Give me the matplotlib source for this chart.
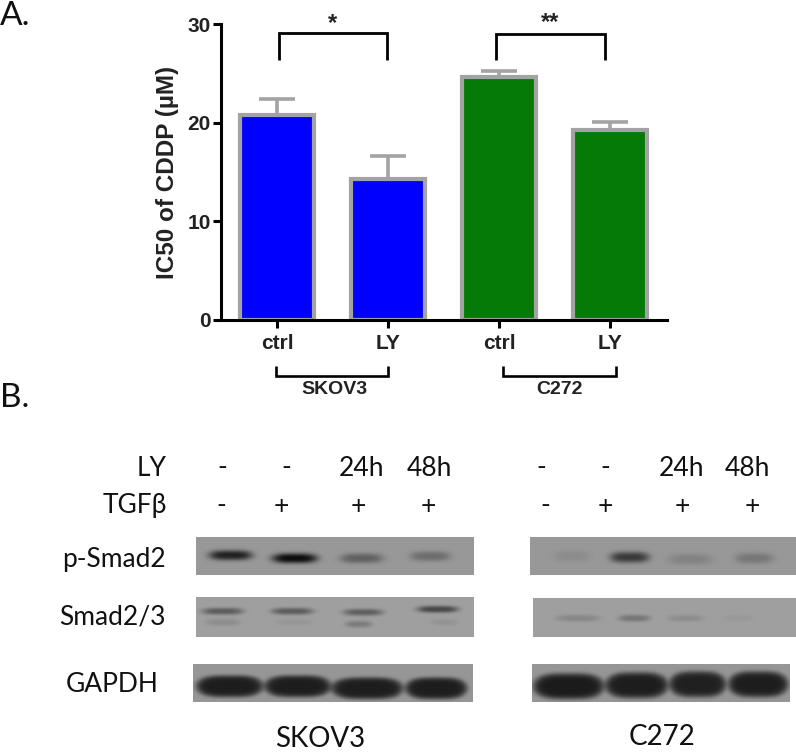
import numpy as np
import matplotlib
matplotlib.use("Agg")
import matplotlib.pyplot as plt

W, H = 796, 752

# bar chart data
bar_labels = ["ctrl", "LY", "ctrl", "LY"]
ic50 = [20.8, 14.3, 24.6, 19.3]
ic50_err = [1.6, 2.3, 0.6, 0.8]
bar_colors = ["#0000ff", "#0000ff", "#067a06", "#067a06"]
y_ticks = [0, 10, 20, 30]

# blot labels
lane_ly = ["-", "-", "24h", "48h"]
lane_tgf = ["-", "+", "+", "+"]
blot_rows = ["p-Smad2", "Smad2/3", "GAPDH"]

# band darkness per lane, 0 = nothing, 1 = black
skov3_psmad = [0.78, 0.92, 0.36, 0.28]
skov3_smad = [0.42, 0.42, 0.40, 0.55]
skov3_smad_low = [0.12, 0.06, 0.22, 0.08]
skov3_gapdh = [0.80, 0.80, 0.80, 0.80]
c272_psmad = [0.08, 0.62, 0.14, 0.22]
c272_smad = [0.15, 0.26, 0.12, 0.05]
c272_gapdh = [0.82, 0.80, 0.78, 0.80]


def blot(canvas, box, bg, bands, k=1.3):
    # box is left, right, top, bottom in image pixels, k sets how hard the band edge is
    left, right, top, bottom = box
    xs, ys = np.meshgrid(np.arange(left, right, 0.5), np.arange(top, bottom, 0.5))
    img = np.ones_like(xs) * bg
    for x0, x1, yc, thick, dark in bands:
        cx = (x0 + x1) / 2
        a = (x1 - x0) / 2
        r = np.abs((xs - cx) / a) ** 3.5 + ((ys - yc) / thick) ** 2
        img = img * (1 - dark * np.exp(-(r ** k)))
    canvas.imshow(img, cmap="gray", vmin=0, vmax=255, extent=(left, right, bottom, top),
                  interpolation="bilinear", aspect="auto", zorder=1)


def lanes(xpos, yc, thick, strength, ydrift=(0, 0, 0, 0)):
    return [(p[0], p[1], yc + d, thick, s) for p, s, d in zip(xpos, strength, ydrift)]


def bracket(canvas, x0, x1, y0, y1, lw):
    canvas.plot([x0, x0, x1, x1], [y1, y0, y0, y1], color="black", lw=lw,
                solid_joinstyle="miter", solid_capstyle="butt", zorder=3)


fig = plt.figure(figsize=(W / 100, H / 100), dpi=100)
fig.patch.set_facecolor("white")

# overlay in image pixels for the blots and the hand placed labels
canvas = fig.add_axes([0, 0, 1, 1])
canvas.set_xlim(0, W)
canvas.set_ylim(H, 0)
canvas.axis("off")

ax = fig.add_axes([221 / W, (H - 320) / H, (667 - 221) / W, 296 / H])
ax.patch.set_alpha(0)
arial = ["Liberation Sans", "DejaVu Sans"]
calibri = ["Lato", "DejaVu Sans"]

xpos = np.arange(len(ic50))
ax.bar(xpos, ic50, width=0.667, color=bar_colors, edgecolor="#a3a3a3", linewidth=3.0, zorder=2)
ax.errorbar(xpos, ic50, yerr=[[0] * 4, ic50_err], fmt="none", ecolor="#a3a3a3",
            elinewidth=2.6, capsize=13, capthick=2.6, zorder=1)
ax.set_xlim(-0.505, 3.51)
ax.set_ylim(0, 30)
ax.set_xticks(xpos)
ax.set_xticklabels(bar_labels, family=arial, fontweight="bold", fontsize=15, color="#222222")
ax.set_yticks(y_ticks)
ax.set_yticklabels(y_ticks, family=arial, fontweight="bold", fontsize=15, color="#222222")
ax.tick_params(axis="x", length=6, width=2.2, pad=4)
ax.tick_params(axis="y", length=5.5, width=2.2, pad=2)
for s in ["top", "right"]:
    ax.spines[s].set_visible(False)
for s in ["left", "bottom"]:
    ax.spines[s].set_linewidth(2.2)
ax.set_ylabel("IC50 of CDDP (µM)", family=arial, fontweight="bold", fontsize=17.5, color="#222222", labelpad=6)

# significance and cell line brackets
bracket(canvas, 279, 387, 33, 60, 2.0)
bracket(canvas, 496, 605, 34, 60, 2.0)
canvas.text(332, 24, "*", ha="center", va="center", family=arial, fontsize=17, fontweight="bold", color="#222222")
canvas.text(550, 23, "**", ha="center", va="center", family=arial, fontsize=17, fontweight="bold", color="#222222")
bracket(canvas, 276, 388, 376, 366, 1.9)
bracket(canvas, 503, 616, 376, 366, 1.9)
canvas.text(334, 389, "SKOV3", ha="center", va="center", family=arial, fontweight="bold", fontsize=14, color="#222222")
canvas.text(559, 389, "C272", ha="center", va="center", family=arial, fontweight="bold", fontsize=14, color="#222222")

canvas.text(0, 16, "A.", ha="left", va="center", family=calibri, fontsize=24, color="#111111")
canvas.text(0, 398, "B.", ha="left", va="center", family=calibri, fontsize=24, color="#111111")

# lane header text
for lab, y in zip(["LY", "TGFβ"], [468, 506]):
    canvas.text(167, y, lab, ha="right", va="center", family=calibri, fontsize=19, color="#111111")
for xs, row, y in [([222, 286, 362, 429], lane_ly, 468), ([221, 281, 358, 428], lane_tgf, 506),
                   ([541, 605, 681, 747], lane_ly, 468), ([545, 605, 682, 752], lane_tgf, 506)]:
    for x, lab in zip(xs, row):
        canvas.text(x, y, lab, ha="center", va="center", family=calibri, fontsize=19, color="#111111")

for lab, x, y, ha in [(blot_rows[0], 166, 559, "right"), (blot_rows[1], 166, 617, "right"), (blot_rows[2], 112, 684, "center")]:
    canvas.text(x, y, lab, ha=ha, va="center", family=calibri, fontsize=19, color="#111111")
canvas.text(320, 739, "SKOV3", ha="center", va="center", family=calibri, fontsize=20, color="#111111")
canvas.text(662, 737, "C272", ha="center", va="center", family=calibri, fontsize=20, color="#111111")

# SKOV3 blots
blot(canvas, (196, 474, 537, 575), 152,
     lanes([(209, 252), (272, 317), (340, 383), (410, 450)], 556, 5, skov3_psmad, (-1, 2, 2, 0)))
blot(canvas, (196, 474, 597, 637), 160,
     lanes([(202, 243), (271, 313), (343, 383), (417, 458)], 611, 3.5, skov3_smad, (0, 0, 1, -2))
     + lanes([(205, 240), (275, 312), (345, 372), (430, 458)], 622, 3.5, skov3_smad_low, (0, 0, 2, 0)))
blot(canvas, (193, 473, 664, 702), 150,
     lanes([(196, 263), (264, 331), (331, 403), (405, 467)], 687, 11, skov3_gapdh, (-1, -1, 1, 1)), k=3)

# C272 blots
blot(canvas, (530, 796, 537, 575), 152,
     lanes([(553, 590), (610, 649), (668, 712), (735, 773)], 557, 5.5, c272_psmad, (-1, 0, 2, 1)))
blot(canvas, (533, 796, 598, 637), 160,
     lanes([(555, 600), (618, 650), (667, 703), (723, 753)], 618, 3.5, c272_smad))
blot(canvas, (532, 790, 664, 702), 150,
     lanes([(533, 604), (605, 668), (669, 726), (728, 788)], 685, 13, c272_gapdh, (1, 0, -1, -1)), k=3)

canvas.set_xlim(0, W)
canvas.set_ylim(H, 0)

fig.savefig("out.png", dpi=100)
